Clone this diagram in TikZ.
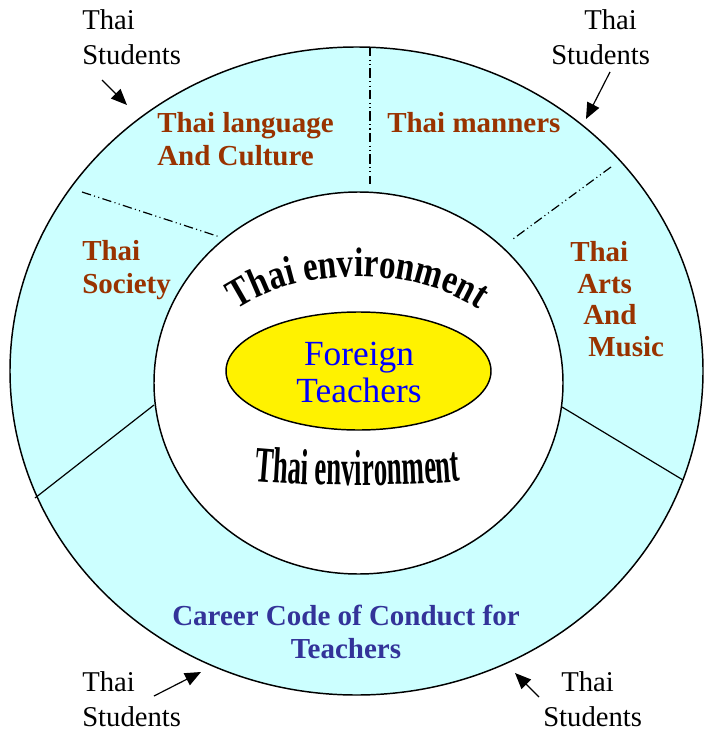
\documentclass[tikz,border=0pt]{standalone}
\usepackage{fontspec}
\setmainfont{Liberation Serif}
\newfontfamily\wordart[FakeStretch=0.53]{Liberation Serif}
\newfontfamily\arcfont[FakeStretch=0.8]{Liberation Serif}
\usetikzlibrary{arrows.meta}
\usetikzlibrary{decorations.text}
\tikzset{>=latex}
\definecolor{ringcyan}{RGB}{204,255,255}
\definecolor{labelbrown}{RGB}{153,51,0}
\definecolor{codeblue}{RGB}{51,51,153}
\definecolor{teacherblue}{RGB}{0,0,255}
\tikzset{
  ring label/.style={font=\fontsize{21.75}{24.75}\selectfont\bfseries, text=labelbrown, align=left, anchor=base west, inner sep=0pt},
  student label/.style={font=\fontsize{21.5}{26.25}\selectfont, align=left, anchor=base west, inner sep=0pt},
  student arrow/.style={-{Triangle[length=12pt,width=10pt]}, line width=0.9pt},
  dashdot divider/.style={line width=0.9pt, dash pattern=on 7pt off 2.5pt on 0.8pt off 2.5pt on 0.8pt off 2.5pt},
  solid divider/.style={line width=0.9pt},
  arc text/.style={decorate, decoration={text along path, text align=center, text={#1}}}
}

\begin{document}
\begin{tikzpicture}[x=0.75pt, y=-0.75pt]
  \useasboundingbox (0,0) rectangle (704,731);
  \coordinate (ring) at (356.5,371);
  \coordinate (env) at (358.5,383);
  \coordinate (core) at (358.5,371);
  \draw [line width=1.1pt, fill=ringcyan] (ring) ellipse [x radius=346.5, y radius=324];
  \draw [line width=1.1pt, fill=white] (env) ellipse [x radius=204.5, y radius=191];
  \draw [line width=1.1pt, fill=yellow] (core) ellipse [x radius=132.5, y radius=59];

  \coordinate (top a) at (370,47);   \coordinate (top b) at (370,184);
  \coordinate (nw a) at (82,192);    \coordinate (nw b) at (220,237);
  \coordinate (ne a) at (611,167);   \coordinate (ne b) at (513,239);
  \coordinate (sw a) at (154,405);   \coordinate (sw b) at (35,498);
  \coordinate (se a) at (562,407);   \coordinate (se b) at (683,480);
  \draw [dashdot divider] (top a) -- (top b);
  \draw [dashdot divider] (nw a) -- (nw b);
  \draw [dashdot divider] (ne a) -- (ne b);
  \draw [solid divider] (sw a) -- (sw b);
  \draw [solid divider] (se a) -- (se b);

  \node [ring label] (language) at (157,166) {Thai language\\And Culture};
  \node [ring label] (manners) at (387,133) {Thai manners};
  \node [ring label] (society) at (82,293) {Thai\\Society};
  \node [ring label, font=\fontsize{21.75}{23.6}\selectfont\bfseries] (arts) at (570,356)
    {Thai\\\hspace*{5.25pt}Arts\\\hspace*{9.75pt}And\\\hspace*{13.5pt}Music};
  \node [ring label, text=codeblue, align=center, anchor=base] (code) at (346,658)
    {Career Code of Conduct for\\Teachers};
  \node [font=\fontsize{26.5}{27.75}\selectfont, text=teacherblue, align=center, anchor=base, inner sep=0pt] (teachers) at (359,402)
    {Foreign\\Teachers};

  \path [arc text={|\arcfont\fontsize{31}{31}\selectfont\bfseries|Thai environment}]
    (230,314) .. controls (296,264) and (419,264) .. (485,314);
  \path [arc text={|\wordart\fontsize{38}{38}\selectfont\bfseries|Thai environment}]
    (243,480) .. controls (305,487) and (410,487) .. (472,480);

  \node [student label] (students nw) at (82,65) {Thai\\Students};
  \node [student label] (students ne) at (551,65) {\hspace*{24.75pt}Thai\\Students};
  \node [student label] (students sw) at (82,726) {Thai\\Students};
  \node [student label] (students se) at (543,726) {\hspace*{13.5pt}Thai\\Students};

  \coordinate (nw tail) at (102,80);  \coordinate (nw tip) at (127,105);
  \coordinate (ne tail) at (610,72);  \coordinate (ne tip) at (586,119);
  \coordinate (sw tail) at (154,696); \coordinate (sw tip) at (201,672);
  \coordinate (se tail) at (539,697); \coordinate (se tip) at (515,673);
  \draw [student arrow] (nw tail) -- (nw tip);
  \draw [student arrow] (ne tail) -- (ne tip);
  \draw [student arrow] (sw tail) -- (sw tip);
  \draw [student arrow] (se tail) -- (se tip);
\end{tikzpicture}
\end{document}
